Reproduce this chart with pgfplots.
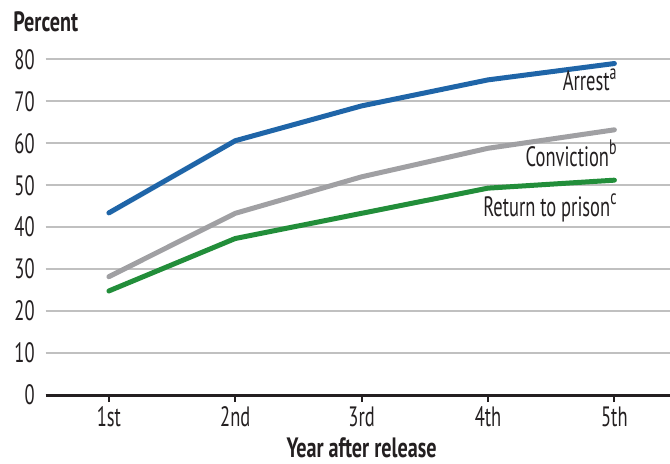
\documentclass[border=0pt]{standalone}
\usepackage{fontspec}
\setmainfont{PT Sans}[FakeStretch=0.66, BoldFeatures={FakeStretch=0.72}]
\usepackage{pgfplots}
\pgfplotsset{compat=1.18}
\definecolor{arrest}{RGB}{31,101,168}
\definecolor{conv}{RGB}{160,160,163}
\definecolor{ret}{RGB}{34,142,58}
\definecolor{gridc}{RGB}{192,192,192}
\definecolor{axc}{RGB}{35,31,32}
\newcommand{\lbl}{\fontsize{14}{16}\selectfont}
\newcommand{\supnote}[1]{\raisebox{0.42em}{\fontsize{10.5}{12}\selectfont #1}}
\begin{document}
\begin{tikzpicture}[x=1pt,y=1pt]
\path[use as bounding box] (0,0) rectangle (335,-231.5);
\begin{axis}[
  at={(22.85pt,-197.5pt)}, anchor=south west,
  scale only axis, width=312.15pt, height=167.85pt,
  xmin=0.5, xmax=5.44, ymin=0, ymax=80,
  axis x line=bottom, axis y line=left,
  x axis line style={-, axc, line width=1.5pt},
  y axis line style={draw=none},
  xtick={1,2,3,4,5}, xticklabels={1st,2nd,3rd,4th,5th},
  ytick={0,10,...,80},
  ymajorgrids, grid style={gridc, line width=1pt},
  tick align=outside, major tick length=3.5pt,
  xtick style={axc, line width=1pt},
  ytick style={draw=none},
  tick label style={font=\lbl, text=axc},
  /pgf/number format/assume math mode=true,
  xticklabel style={anchor=base, inner sep=0pt, yshift=-12pt},
  yticklabel style={anchor=east, inner sep=0pt, xshift=-1.85pt},
  xlabel={\bfseries Year after release},
  xlabel style={at={(rel axis cs:0.506,0)}, anchor=base, inner sep=0pt, yshift=-31pt, font=\lbl, text=axc},
  clip=false,
]
\addplot[conv, line width=2.5pt, line cap=round, line join=round] coordinates {(1,28.2) (2,43.3) (3,52.0) (4,58.8) (5,63.2)};
\addplot[ret, line width=2.5pt, line cap=round, line join=round] coordinates {(1,24.8) (2,37.3) (3,43.3) (4,49.3) (5,51.2)};
\addplot[arrest, line width=2.5pt, line cap=round, line join=round] coordinates {(1,43.4) (2,60.6) (3,68.9) (4,75.1) (5,79.0)};
\node[anchor=base east, font=\lbl, text=axc, inner sep=0pt] at (axis cs:5.02,72.5) {Arrest\supnote{a}};
\node[anchor=base east, font=\lbl, text=axc, inner sep=0pt] at (axis cs:5.02,54.4) {Conviction\supnote{b}};
\node[anchor=base east, font=\lbl, text=axc, inner sep=0pt] at (axis cs:5.02,42.5) {Return to prison\supnote{c}};
\end{axis}
\node[anchor=base west, font=\lbl\bfseries, text=axc, inner sep=0pt] at (6.5,-15.5) {Percent};
\end{tikzpicture}
\end{document}
